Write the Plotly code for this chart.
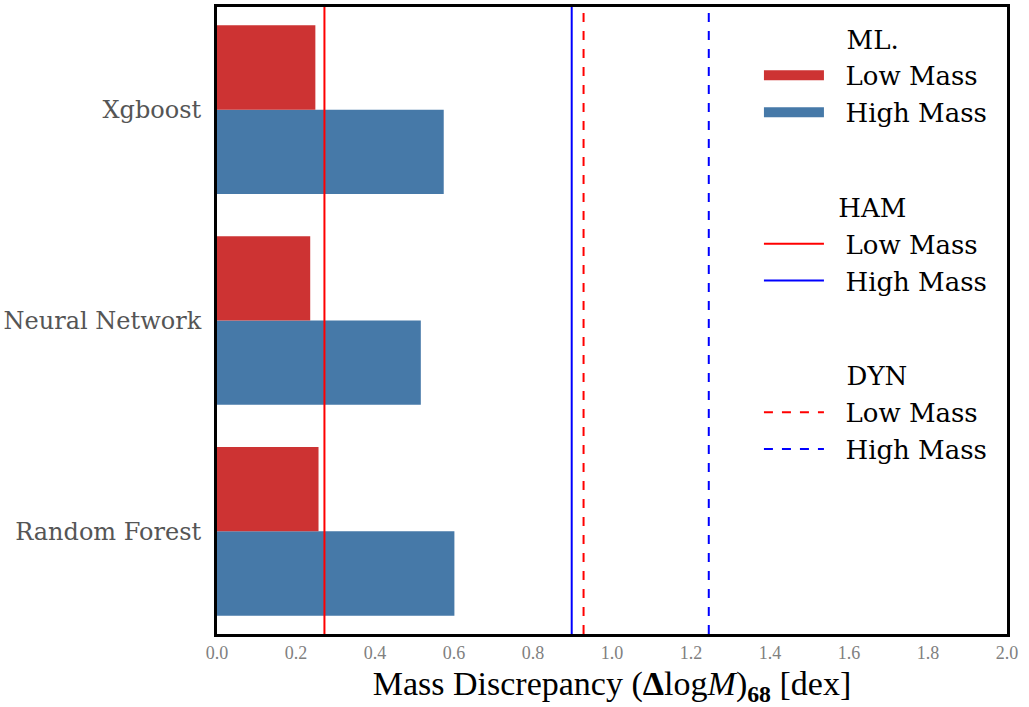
import plotly.graph_objects as go

categories = ["Random Forest", "Neural Network", "Xgboost"]
ml_low = [0.257, 0.236, 0.249]
ml_high = [0.601, 0.516, 0.574]
ham = {"Low Mass": 0.272, "High Mass": 0.898}
dyn = {"Low Mass": 0.928, "High Mass": 1.245}
xticks = [0.0, 0.2, 0.4, 0.6, 0.8, 1.0, 1.2, 1.4, 1.6, 1.8, 2.0]

RED = "#CD3333"
BLUE = "#4679A8"
SERIF = "DejaVu Serif"
NB = "\u00a0"

fig = go.Figure()
fig.add_trace(go.Bar(y=categories, x=ml_high, orientation="h", name="High Mass",
                     marker=dict(color=BLUE, line=dict(width=0)), showlegend=False))
fig.add_trace(go.Bar(y=categories, x=ml_low, orientation="h", name="Low Mass",
                     marker=dict(color=RED, line=dict(width=0)), showlegend=False))

# legend entries for the ML bars (wide swatches as in the reference)
for lbl, col, rk in [("Low Mass", RED, 1), ("High Mass", BLUE, 2)]:
    fig.add_trace(go.Scatter(x=[None], y=[None], mode="lines", name=NB * 2 + lbl,
                             line=dict(color=col, width=20),
                             legendgroup="ml", legendgrouptitle_text=NB * 10 + "ML.",
                             legendrank=rk, showlegend=True))

rank = 3
for grp, vals, dash, pad in [("HAM", ham, "solid", 9), ("DYN", dyn, "dash", 10)]:
    for lbl, v in vals.items():
        col = "#FF0000" if lbl == "Low Mass" else "#0000FF"
        fig.add_shape(type="line", x0=v, x1=v, xref="x", y0=0, y1=1, yref="y domain",
                      line=dict(color=col, width=2, dash=dash),
                      showlegend=True, name=NB * 2 + lbl, legendgroup=grp,
                      legendgrouptitle=dict(text=NB * pad + grp), legendrank=rank)
        rank += 1

fig.update_layout(
    width=1029, height=707,
    margin=dict(l=211, r=22, t=4, b=73),
    paper_bgcolor="white", plot_bgcolor="white",
    barmode="group", bargap=0.2, bargroupgap=0,
    font=dict(family=SERIF),
    showlegend=True,
    legend=dict(x=0.686, y=0.987, xanchor="left", yanchor="top",
                bgcolor="rgba(0,0,0,0)", font=dict(family=SERIF, size=26, color="black"),
                grouptitlefont=dict(family=SERIF, size=26, color="black"),
                traceorder="grouped", tracegroupgap=58, itemwidth=60),
    xaxis=dict(range=[0, 2.0], tickvals=xticks, ticktext=[f"{t:.1f}" for t in xticks],
               showgrid=False, zeroline=False, ticks="",
               showline=True, linecolor="black", linewidth=3, mirror=True,
               tickfont=dict(family="Liberation Serif", size=18, color="#808080"),
               ticklabelstandoff=0,
               title=dict(text="Mass Discrepancy (<b>Δ</b>log<i>M</i>)<sub><b>68</b></sub> [dex]",
                          font=dict(family="Liberation Serif", size=34, color="black"), standoff=10)),
    yaxis=dict(type="category", categoryorder="array", categoryarray=categories,
               range=[-0.487, 2.487], showgrid=False, zeroline=False, ticks="",
               showline=True, linecolor="black", linewidth=3, mirror=True,
               tickfont=dict(family=SERIF, size=24, color="#555555"), ticklabelstandoff=8),
)

fig.write_html("out.html")
